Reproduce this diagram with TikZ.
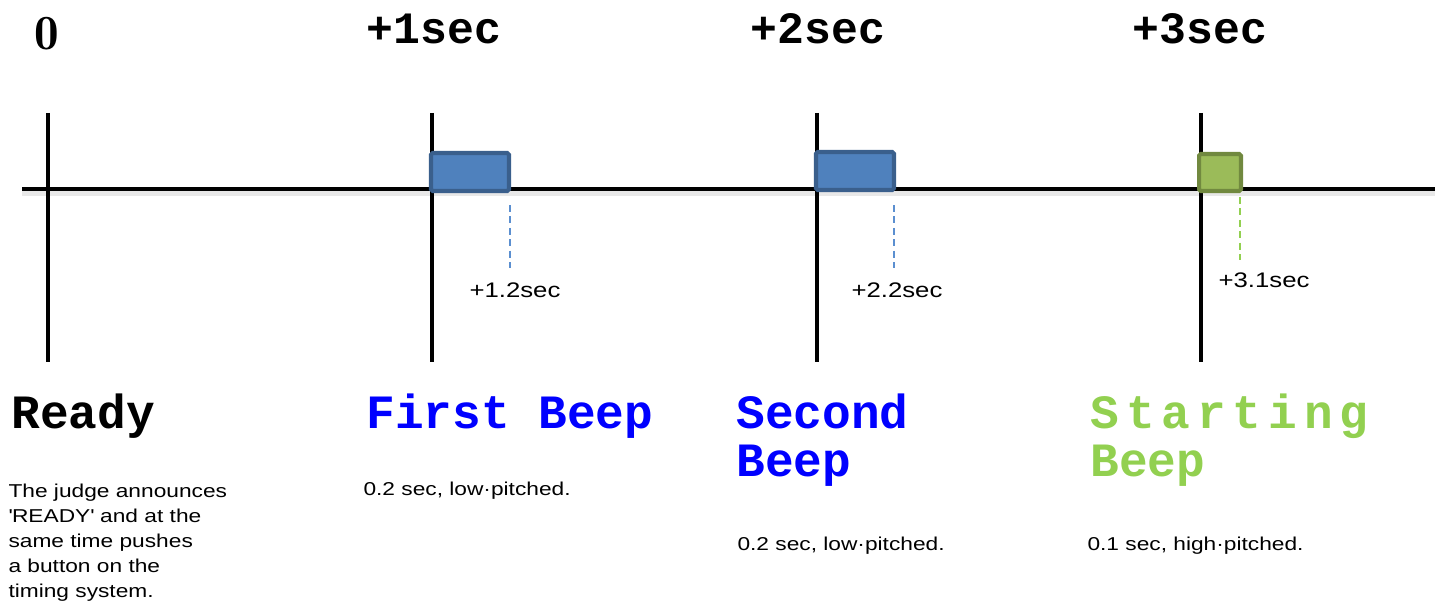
\documentclass[tikz,border=0pt]{standalone}
\usepackage{fontspec}
\newfontfamily\beepfont{Liberation Mono}
\newfontfamily\notefont[FakeStretch=1.22]{Liberation Sans}
\usetikzlibrary{positioning}
\definecolor{beepblue}{HTML}{4F81BD}
\definecolor{beepedge}{HTML}{3A5F8C}
\definecolor{startfill}{HTML}{9BBB59}
\definecolor{startedge}{HTML}{71893F}
\definecolor{startgreen}{HTML}{92D050}
\definecolor{cueblue}{HTML}{5B8FD0}

\begin{document}
\begin{tikzpicture}[x=0.02cm,y=-0.02cm,semithick]
  \tikzstyle{every node}=[inner sep=0pt]
  \tikzstyle{tick}=[line width=2.3pt,black]
  \tikzstyle{time}=[anchor=base,font=\beepfont\bfseries\fontsize{25.5}{26}\selectfont]
  \tikzstyle{title}=[anchor=base west,align=left,font=\beepfont\bfseries\fontsize{27.2}{27.2}\selectfont]
  \tikzstyle{note}=[anchor=base west,align=left,font=\notefont\fontsize{10.6}{14.2}\selectfont]
  \tikzstyle{stamp}=[anchor=base,font=\notefont\fontsize{12}{14}\selectfont]
  \tikzstyle{beep}=[draw=beepedge,fill=beepblue,line width=2.3pt,rounded corners=1pt,
                    minimum width=1.56cm,minimum height=0.76cm]
  \tikzstyle{cue}=[dash pattern=on 4pt off 2.5pt,line width=1.1pt]

  \useasboundingbox (0,0) rectangle (1443,608);

  % time axis
  \coordinate (axisL) at (22,189);
  \coordinate (axisR) at (1435,189);
  \draw[black!9,line width=3pt] ([yshift=-2.5pt]axisL) -- ([yshift=-2.5pt]axisR);
  \draw[tick] (axisL) -- (axisR);

  % ticks
  \coordinate (top0) at (48,113);   \coordinate (bot0) at (48,362);
  \coordinate (top1) at (432,113);  \coordinate (bot1) at (432,362);
  \coordinate (top2) at (817,113);  \coordinate (bot2) at (817,362);
  \coordinate (top3) at (1201,113); \coordinate (bot3) at (1201,362);
  \draw[tick] (top0) -- (bot0);
  \draw[tick] (top1) -- (bot1);
  \draw[tick] (top2) -- (bot2);
  \draw[tick] (top3) -- (bot3);

  \node[anchor=base,font=\fontsize{28}{28}\selectfont] (t0) at (47,50) {$\mathbf{0}$};
  \node[time] (t1) at (434,44) {+1sec};
  \node[time] (t2) at (818,44) {+2sec};
  \node[time] (t3) at (1200,44) {+3sec};

  % beeps
  \node[beep] (beep1) at (470,172) {};
  \node[beep] (beep2) at (855,171) {};
  \node[beep,draw=startedge,fill=startfill,minimum width=0.84cm,
        minimum height=0.74cm] (beep3) at (1220,172.5) {};

  \coordinate (cue1) at (510,205);  \coordinate (end1) at (510,268);
  \coordinate (cue2) at (894,205);  \coordinate (end2) at (894,268);
  \coordinate (cue3) at (1240,197); \coordinate (end3) at (1240,260);
  \draw[cue,cueblue] (cue1) -- (end1);
  \draw[cue,cueblue] (cue2) -- (end2);
  \draw[cue,startgreen] (cue3) -- (end3);

  \node[stamp] (s1) at (515,297) {+1.2sec};
  \node[stamp] (s2) at (897,297) {+2.2sec};
  \node[stamp] (s3) at (1264,287) {+3.1sec};

  % phases (base = last line)
  \node[title] (ready) at (11,428) {Ready};
  \node[title,blue] (first) at (366,428) {First Beep};
  \node[title,blue] (second) at (736,476) {Second\\Beep};
  \node[title,startgreen] (start) at (1090,476) {{\addfontfeature{LetterSpace=14.5}Starting}\\Beep};

  \node[note] (readytxt) at (8,597) {The judge announces\\\textquotesingle READY\textquotesingle{} and at the\\same time pushes\\a button on the\\timing system.};
  \node[note] (firsttxt) at (363,495) {0.2 sec, low·pitched.};
  \node[note] (secondtxt) at (737,550) {0.2 sec, low·pitched.};
  \node[note] (starttxt) at (1087,550) {0.1 sec, high·pitched.};
\end{tikzpicture}
\end{document}
